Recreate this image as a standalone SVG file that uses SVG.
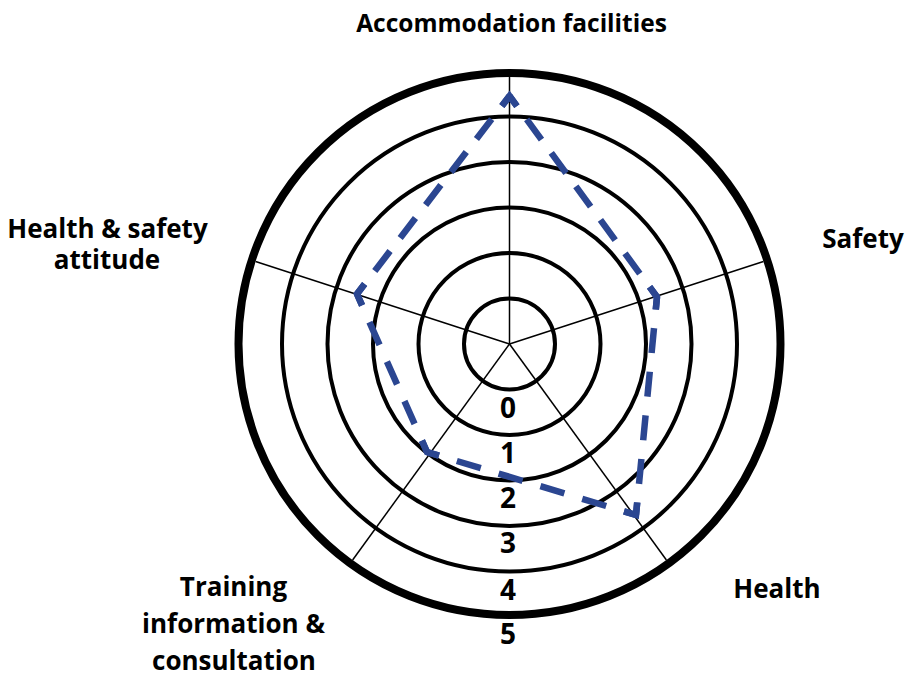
<svg xmlns="http://www.w3.org/2000/svg" width="906" height="676" viewBox="0 0 906 676">
<style>
.ring{fill:none;stroke:#000;stroke-width:4}
.outer{fill:none;stroke:#000;stroke-width:8}
.spoke{stroke:#000;stroke-width:1.5}
.lbl{font-family:"Open Sans","Noto Sans","Liberation Sans",sans-serif;font-weight:bold;font-size:26px;fill:#000;text-anchor:middle}
.title{font-size:24.5px}
.num{font-size:28px}
.data{fill:none;stroke:#2B4691;stroke-width:6.5}
.corner{fill:none;stroke:#2B4691;stroke-width:6.5;stroke-linejoin:miter;stroke-miterlimit:6}
</style>
<rect width="906" height="676" fill="#fff"/>
<g id="grid">
<g id="spokes">
<line class="spoke" x1="509.5" y1="344" x2="509.5" y2="77"/>
<line class="spoke" x1="509.5" y1="344" x2="763.4" y2="261.5"/>
<line class="spoke" x1="509.5" y1="344" x2="666.4" y2="560"/>
<line class="spoke" x1="509.5" y1="344" x2="352.6" y2="560"/>
<line class="spoke" x1="509.5" y1="344" x2="255.6" y2="261.5"/>
</g>
<circle class="ring" cx="509.5" cy="344" r="45.5"/>
<circle class="ring" cx="509.5" cy="344" r="91"/>
<circle class="ring" cx="509.5" cy="344" r="136.5"/>
<circle class="ring" cx="509.5" cy="344" r="182"/>
<circle class="ring" cx="509.5" cy="344" r="227.5"/>
<circle class="outer" cx="509.5" cy="344" r="271"/>
</g>
<g id="scale">
<text class="lbl num" x="508" y="418">0</text>
<text class="lbl num" x="508" y="463">1</text>
<text class="lbl num" x="508" y="508">2</text>
<text class="lbl num" x="508" y="553">3</text>
<text class="lbl num" x="508" y="600">4</text>
<text class="lbl num" x="508" y="644">5</text>
</g>
<g id="data">
<line class="data" x1="509.5" y1="96" x2="657" y2="297" stroke-dasharray="25 16.55" stroke-dashoffset="12.5"/>
<line class="data" x1="657" y1="297" x2="636" y2="515" stroke-dasharray="25 18.8" stroke-dashoffset="12.5"/>
<line class="data" x1="636" y1="515" x2="427" y2="452" stroke-dasharray="25 18.66" stroke-dashoffset="12.5"/>
<line class="data" x1="427" y1="452" x2="357" y2="294" stroke-dasharray="25 18.2" stroke-dashoffset="12.5"/>
<line class="data" x1="357" y1="294" x2="509.5" y2="96" stroke-dasharray="25 16.65" stroke-dashoffset="12.5"/>
<polyline class="corner" points="501.87,105.9 509.5,96 516.9,106.08"/>
<polyline class="corner" points="649.6,286.92 657,297 655.8,309.44"/>
<polyline class="corner" points="637.2,502.56 636,515 624.03,511.39"/>
<polyline class="corner" points="438.97,455.61 427,452 421.94,440.57"/>
<polyline class="corner" points="362.06,305.43 357,294 364.63,284.1"/>
</g>
<g id="label-accommodation"><text class="lbl title" x="511.5" y="31.5">Accommodation facilities</text></g>
<g id="label-safety"><text class="lbl" x="863" y="248">Safety</text></g>
<g id="label-health"><text class="lbl" x="777" y="598">Health</text></g>
<g id="label-training"><text class="lbl" x="233.5" y="596">Training</text><text class="lbl" x="233.5" y="633">information &amp;</text><text class="lbl" x="234" y="669.5">consultation</text></g>
<g id="label-hs-attitude"><text class="lbl" x="107.5" y="237.5">Health &amp; safety</text><text class="lbl" x="107" y="268.5">attitude</text></g>
</svg>
